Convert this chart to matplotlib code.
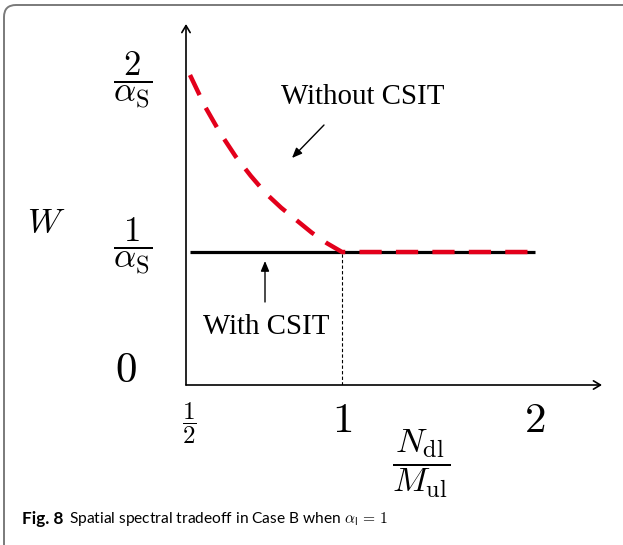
import numpy as np
import matplotlib
matplotlib.use("Agg")
import matplotlib.pyplot as plt
import matplotlib.transforms as mtransforms
from matplotlib.patches import FancyBboxPatch

plt.rcParams['mathtext.fontset'] = 'cm'

# ratio N_dl / M_ul and normalised W (units of 1/alpha_S)
ratio_ticks = [0.5, 1.0, 2.0]
w_ticks = [0, 1, 2]

# with CSIT: flat at 1/alpha_S
x_with = [0.5, 2.0]
w_with = [1.0, 1.0]

# without CSIT: decays to 1/alpha_S at ratio 1, then flat
x_without = [0.5, 0.55, 0.6, 0.65, 0.7, 0.75, 0.8, 0.85, 0.9, 0.95, 1.0, 2.0]
w_without = [2.0, 1.82, 1.67, 1.54, 1.43, 1.33, 1.25, 1.18, 1.11, 1.05, 1.0, 1.0]

W, H = 623, 545
fig = plt.figure(figsize=(W / 100, H / 100), dpi=100)


def px(x, y):
    # pixel position measured from top-left -> figure fraction
    return x / W, 1 - y / H


# schematic axes: piecewise-linear scales so 1/2, 1, 2 sit where drawn
def fx(x):
    x = np.asarray(x, dtype=float)
    return np.where(x <= 1, 190 + 304 * (x - 0.5), 342 + 193 * (x - 1))


def fx_inv(p):
    p = np.asarray(p, dtype=float)
    return np.where(p <= 342, 0.5 + (p - 190) / 304, 1 + (p - 342) / 193)


def fy(y):
    y = np.asarray(y, dtype=float)
    return np.where(y <= 1, 133 * y, 133 + 177 * (y - 1))


def fy_inv(p):
    p = np.asarray(p, dtype=float)
    return np.where(p <= 133, p / 133, 1 + (p - 133) / 177)


x0, y0, x1, y1 = 186, 385, 602, 24
ax = fig.add_axes([x0 / W, 1 - y0 / H, (x1 - x0) / W, (y0 - y1) / H])
ax.set_xscale('function', functions=(fx, fx_inv))
ax.set_yscale('function', functions=(fy, fy_inv))
ax.set_xlim(fx_inv(186), fx_inv(602))
ax.set_ylim(0, fy_inv(385 - 24))
for s in ax.spines.values():
    s.set_visible(False)
ax.set_xticks([])
ax.set_yticks([])
ax.minorticks_off()
ax.patch.set_alpha(0)

# axis arrows
arrow = dict(arrowstyle='->,head_length=0.5,head_width=0.3', lw=1.2, color='black',
             shrinkA=0, shrinkB=0)
ax.annotate('', xy=(1, 0), xytext=(0, 0), xycoords='axes fraction', arrowprops=arrow)
ax.annotate('', xy=(0, 1), xytext=(0, 0), xycoords='axes fraction', arrowprops=arrow)

ax.plot(x_with, w_with, color='black', lw=2.3, solid_capstyle='butt', zorder=3)
ax.plot(x_without, w_without, color='#e3001b', lw=3.2, dashes=(5, 3.2),
        dash_capstyle='butt', zorder=4)
ax.plot([1, 1], [0, 1], color='black', lw=0.8, dashes=(3, 2), zorder=2)


def callout(tip, tail):
    # tip / tail given in pixels from the top-left corner
    ax.annotate('', xy=(tip[0], H - tip[1]), xytext=(tail[0], H - tail[1]),
                xycoords='figure pixels', textcoords='figure pixels',
                arrowprops=dict(arrowstyle='-|>,head_length=0.6,head_width=0.25',
                                lw=1.0, color='black', shrinkA=0, shrinkB=0))


callout((292, 158), (324, 125))
callout((265, 261), (265, 302))

serif = 'Liberation Serif'
fig.text(*px(363, 97), 'Without CSIT', family=serif, fontsize=20.8,
         ha='center', va='center')
fig.text(*px(266, 327), 'With CSIT', family=serif, fontsize=20.8,
         ha='center', va='center')

# tick and axis labels
fig.text(*px(133, 80), r'$\dfrac{2}{\alpha_{\mathrm{S}}}$', fontsize=25,
         ha='center', va='center')
fig.text(*px(133, 246), r'$\dfrac{1}{\alpha_{\mathrm{S}}}$', fontsize=25,
         ha='center', va='center')
fig.text(*px(126, 370), r'$0$', fontsize=31, ha='center', va='center')
fig.text(*px(46, 222), r'$W$', fontsize=25, ha='center', va='center')

fig.text(*px(189, 423), r'$\dfrac{1}{2}$', fontsize=18, ha='center', va='center')
fig.text(*px(342, 420), r'$1$', fontsize=31, ha='center', va='center')
fig.text(*px(535, 420), r'$2$', fontsize=31, ha='center', va='center')
fig.text(*px(421, 464), r'$\dfrac{N_{\mathrm{dl}}}{M_{\mathrm{ul}}}$', fontsize=25,
         ha='center', va='center')

# caption
fig.text(*px(22, 519), 'Fig. 8', family='Lato', fontweight='bold',
         fontsize=12.3, ha='left', va='center')
fig.text(*px(69, 519), r'Spatial spectral tradeoff in Case B when $\alpha_{\mathsf{l}}\,=\,1$',
         family='Lato', fontsize=11.2, ha='left', va='center')

# rounded frame, running off the right and bottom edges
frame = FancyBboxPatch((4, -40), 700, 580, boxstyle='round,pad=0,rounding_size=12',
                       transform=mtransforms.IdentityTransform(), fill=False,
                       edgecolor='#7a7a7a', lw=1.4)
fig.patches.append(frame)

fig.savefig('out.png', dpi=100)
